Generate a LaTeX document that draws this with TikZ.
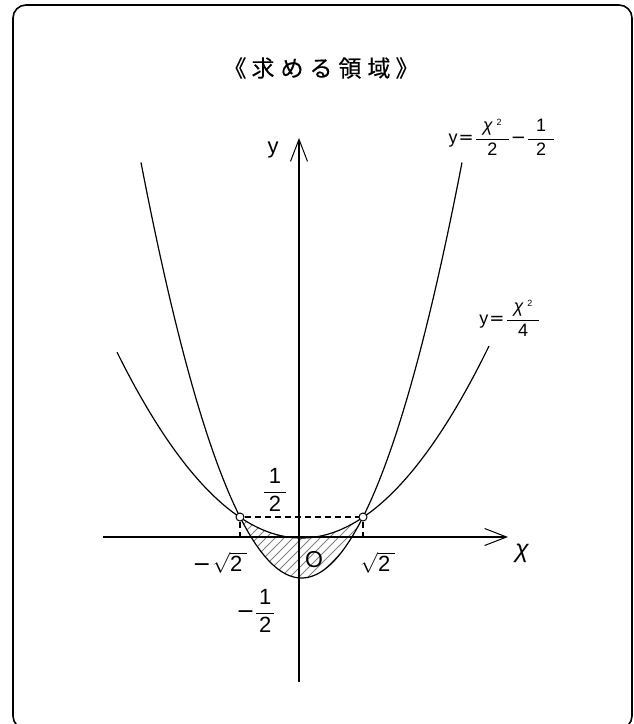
\documentclass[tikz,border=0pt]{standalone}
\usepackage{fontspec}
\setmainfont{Liberation Sans}
\newfontfamily\jpfont[FakeBold=0.3]{Noto Sans CJK JP}
\newfontfamily\dv{DejaVu Sans}
\usetikzlibrary{arrows.meta}
\tikzset{
  curve/.style={line width=1.2pt},
  axis/.style={line width=1.8pt,-{Straight Barb[length=22pt,width=17pt,line width=1pt]}},
  dashline/.style={line width=1.3pt,dash pattern=on 6pt off 4pt},
  hatch/.style={gray,line width=0.8pt},
  pt/.style={circle,draw,fill=white,line width=1pt,minimum size=8pt,inner sep=0pt},
  lbl/.style={inner sep=0pt,font=\fontsize{22}{26}\selectfont},
  eq/.style={inner sep=0pt,font=\fontsize{18}{22}\selectfont},
}
\newcommand{\myfr}[3][5pt]{$\displaystyle\frac{\mbox{\hspace{#1}#2\hspace{#1}}}{\mbox{#3}}$}
\newcommand{\chisq}{{\itshape χ}\hspace{4pt}\raisebox{0.65ex}{\fontsize{9}{9}\selectfont 2}}
\newcommand{\eqs}{\hspace{1pt}{\dv =}\hspace{1pt}}
\newcommand{\mns}{{\dv −}}
\begin{document}
\begin{tikzpicture}[x=1pt,y=-1pt]
\useasboundingbox (0,0) rectangle (633,724);
\draw[line width=1.6pt,rounded corners=13pt] (13,5) rectangle (632,729);

\node[inner sep=0pt] (title) at (321,68) {\jpfont\fontsize{23}{26}\selectfont 《\hspace{5pt}求\hspace{6pt}め\hspace{6pt}る\hspace{6pt}領\hspace{6pt}域\hspace{5pt}》};

% hatched region
\begin{scope}
\clip plot[domain=240:363,samples=60,smooth] (\x,{578-1.613*((\x-301.5)/10)^2})
  -- plot[domain=363:240,samples=60,smooth] (\x,{538-0.546*((\x-301.5)/10)^2}) -- cycle;
\foreach \k in {150,159,...,420} \draw[hatch] (\k,600) -- (\k+100,500);
\end{scope}

% axes
\coordinate (xs) at (103,537);
\coordinate (xe) at (508,537);
\coordinate (ys) at (299,682);
\coordinate (ye) at (299,138);
\draw[axis] (xs) -- (xe);
\draw[axis] (ys) -- (ye);

% curves
\draw[curve] plot[domain=141:462,samples=120,smooth] (\x,{578-1.613*((\x-301.5)/10)^2});
\draw[curve] plot[domain=117:489,samples=120,smooth] (\x,{538-0.546*((\x-301.5)/10)^2});

% intersections and dashed lines
\node[pt] (P) at (240,517) {};
\node[pt] (Q) at (363,517) {};
\coordinate (Pb) at (240,537);
\coordinate (Qb) at (363,537);
\draw[dashline] (P) -- (Q);
\draw[dashline] (P) -- (Pb);
\draw[dashline] (Q) -- (Qb);

% labels
\node[inner sep=0pt,font=\fontsize{22}{24}\selectfont] (ylab) at (273,150) {y};
\node[inner sep=0pt,font=\fontsize{25}{28}\selectfont\itshape] (xlab) at (522,553) {χ};
\node[inner sep=0pt,font=\fontsize{23}{26}\selectfont] (O) at (314,560) {O};
\node[lbl] (half) at (275,490) {\myfr[5pt]{1}{2}};
\node[lbl] (mhalf) at (256,611) {\mns\myfr[3pt]{1}{2}};
\node[lbl] (ms2) at (220,563) {\mns\hspace{2pt}$\sqrt{\mbox{2\hspace{5pt}}}$};
\node[lbl] (s2) at (378,563) {$\sqrt{\mbox{2\hspace{5pt}}}$};
\node[eq] (eq1) at (502,137) {y\eqs\myfr[7pt]{\chisq}{2}\hspace{1pt}\mns\hspace{1pt}\myfr[8pt]{1}{2}};
\node[eq] (eq2) at (510,318) {y\eqs\myfr[7pt]{\chisq}{4}};
\end{tikzpicture}
\end{document}
